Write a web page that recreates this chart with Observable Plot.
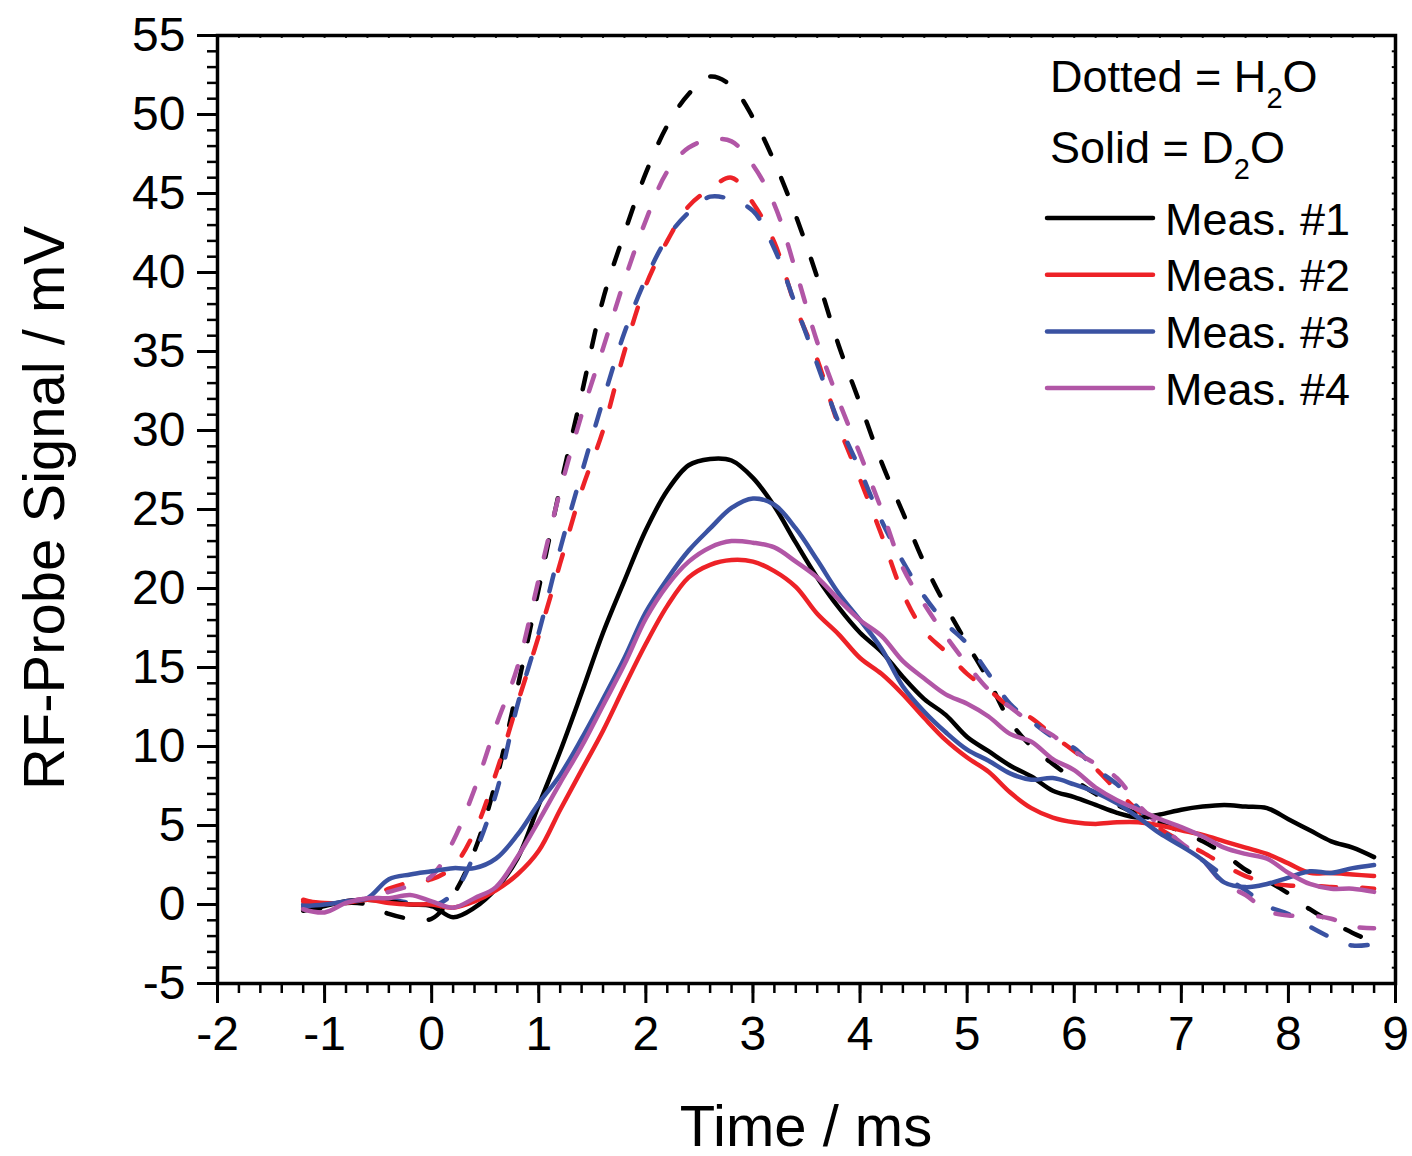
<!DOCTYPE html>
<html><head><meta charset="utf-8">
<script src="https://cdn.jsdelivr.net/npm/d3@7"></script>
<script src="https://cdn.jsdelivr.net/npm/@observablehq/plot@0.6"></script>
<style>
html,body{margin:0;padding:0;background:#fff;}
#chart{position:relative;width:1412px;height:1156px;}
</style></head><body><div id="chart"></div>
<script>
// Time axis (ms)
const time = [-1.2,-1.0,-0.8,-0.6,-0.4,-0.2,0,0.2,0.4,0.6,0.8,1.0,1.2,1.4,1.6,1.8,2.0,2.2,2.4,2.6,2.8,3.0,3.2,3.4,3.6,3.8,4.0,4.2,4.4,4.6,4.8,5.0,5.2,5.4,5.6,5.8,6.0,6.2,6.4,6.6,6.8,7.0,7.2,7.4,7.6,7.8,8.0,8.2,8.4,8.6,8.8];

const seriesNames = ["Meas. #1","Meas. #2","Meas. #3","Meas. #4"];
const seriesColors = ["#000000","#ED2227","#3A52A2","#B156A6"];

// Solid = D2O (mV)
const d2o1 = [-0.4,-0.1,0.2,0.3,0.2,0.0,-0.1,-0.8,-0.2,1.0,2.9,6.3,9.7,13.4,17.2,20.5,23.7,26.2,27.8,28.2,28.1,27.0,25.2,22.9,20.7,18.8,17.2,16.0,14.4,13.0,12.0,10.6,9.7,8.8,8.1,7.2,6.8,6.3,5.8,5.5,5.7,6.0,6.2,6.3,6.2,6.1,5.4,4.7,4.0,3.6,3.0];
const d2o2 = [0.2,0.1,0.1,0.3,0.1,0.0,0.0,-0.2,0.2,0.9,1.9,3.4,6.0,8.5,11.0,13.8,16.5,18.9,20.7,21.5,21.8,21.7,21.1,20.1,18.4,17.1,15.6,14.6,13.3,11.8,10.4,9.3,8.4,7.1,6.1,5.5,5.2,5.1,5.2,5.2,5.0,4.7,4.4,4.0,3.6,3.2,2.6,2.0,2.0,1.9,1.8];
const d2o3 = [-0.1,0.0,0.2,0.4,1.6,1.9,2.1,2.3,2.3,2.9,4.4,6.4,8.2,10.5,13.0,15.6,18.5,20.6,22.4,23.8,25.1,25.7,25.3,23.8,21.8,19.7,18.0,16.2,13.8,12.2,10.9,9.8,9.1,8.3,7.9,8.0,7.6,7.1,6.4,5.5,4.5,3.7,2.8,1.4,1.1,1.3,1.7,2.1,2.0,2.3,2.5];
const d2o4 = [-0.3,-0.5,0.1,0.4,0.4,0.6,0.2,-0.2,0.4,1.1,3.0,5.3,7.7,10.0,12.6,15.2,18.1,20.2,21.7,22.6,23.0,22.9,22.6,21.7,20.7,19.3,18.0,17.0,15.4,14.3,13.3,12.7,11.9,10.8,10.3,9.2,8.5,7.4,6.6,6.0,5.4,4.9,4.3,3.6,3.2,2.9,2.0,1.3,1.0,1.0,0.8];

// Dotted = H2O (mV)
const h2o1 = [-0.3,-0.2,0.1,0.0,-0.6,-0.9,-0.9,0.6,3.4,7.8,13.7,20.0,26.4,32.3,38.3,42.5,46.3,49.3,51.3,52.4,51.8,49.8,47.0,43.6,39.7,35.4,31.7,28.0,24.8,21.6,18.9,16.5,14.2,11.6,10.0,8.9,7.9,7.0,6.3,5.7,5.2,4.6,4.0,3.2,2.2,1.5,0.7,-0.3,-1.1,-1.8,-2.4];
const h2o2 = [0.3,0.0,0.2,0.4,1.0,1.4,1.6,2.4,4.6,8.3,12.7,17.0,21.6,26.2,30.0,35.0,39.2,42.0,44.2,45.3,46.0,44.4,41.9,37.8,34.5,30.3,26.9,23.4,19.7,17.3,16.0,14.6,13.6,12.5,11.8,10.7,9.7,8.6,7.2,5.9,4.8,4.0,3.3,2.5,1.8,1.4,1.2,1.2,1.1,1.1,1.0];
const h2o3 = [0.0,0.1,0.2,0.3,0.3,0.1,-0.1,0.7,3.2,7.0,12.6,17.2,22.5,27.3,31.9,36.2,39.6,42.2,43.8,44.8,44.6,43.9,41.5,37.9,34.2,30.5,27.5,24.3,21.7,19.5,17.8,16.5,14.6,12.7,11.6,10.6,9.9,8.6,7.6,6.1,4.8,3.8,2.8,1.8,0.9,-0.1,-0.6,-1.4,-2.1,-2.6,-2.5];
const h2o4 = [-0.2,0.0,0.2,0.4,0.8,1.2,1.8,4.0,7.3,11.3,15.0,20.6,26.2,31.0,35.2,39.5,43.3,46.4,47.9,48.4,48.3,46.8,44.3,40.1,35.6,31.9,28.5,25.0,21.3,19.0,17.0,15.2,13.6,12.5,11.5,10.7,9.7,8.9,8.0,6.3,5.0,3.9,2.8,1.3,0.6,-0.4,-0.7,-0.7,-0.9,-1.4,-1.5];

// Tick labels
const xTicks = [-2,-1,0,1,2,3,4,5,6,7,8,9];
const yTicks = [-5,0,5,10,15,20,25,30,35,40,45,50,55];

const solidSeries = [d2o1, d2o2, d2o3, d2o4];
const dashedSeries = [h2o1, h2o2, h2o3, h2o4];

function tidy(list) {
  const out = [];
  list.forEach((vals, k) => vals.forEach((v, i) => out.push({t: time[i], v, meas: seriesNames[k]})));
  return out;
}
const solidRows = tidy(solidSeries);
const dashedRows = tidy(dashedSeries);

const xMinor = d3.range(-20, 91, 2).map(d => d / 10);
const yMinor = d3.range(-5, 56, 1);

const font = "'Liberation Sans', Arial, Helvetica, sans-serif";

const plot = Plot.plot({
  width: 1412,
  height: 1156,
  marginLeft: 217,
  marginRight: 17,
  marginTop: 35,
  marginBottom: 173,
  style: {fontFamily: font, color: "black", background: "white", overflow: "visible"},
  x: {domain: [-2, 9]},
  y: {domain: [-5, 55]},
  color: {domain: seriesNames, range: seriesColors},
  marks: [
    Plot.lineY(dashedRows, {x: "t", y: "v", z: "meas", stroke: "meas", strokeWidth: 4.5, strokeDasharray: "17,26", strokeLinecap: "round", curve: "catmull-rom"}),
    Plot.lineY(solidRows, {x: "t", y: "v", z: "meas", stroke: "meas", strokeWidth: 4.5, curve: "catmull-rom"}),
    Plot.axisX({ticks: xMinor, tickSize: 10, tickFormat: () => "", strokeWidth: 2.5, label: null}),
    Plot.axisX({ticks: xTicks, tickSize: 20, tickPadding: 12, tickFormat: d => String(d), fontSize: 48, strokeWidth: 3, label: null}),
    Plot.axisY({ticks: yMinor, tickSize: 10, tickFormat: () => "", strokeWidth: 2.5, label: null}),
    Plot.axisY({ticks: yTicks, tickSize: 20, tickPadding: 12, tickFormat: d => String(d), fontSize: 48, strokeWidth: 3, label: null}),
    Plot.ruleX(xMinor, {x: d => d, y1: 55, y2: 54.82, stroke: "black", strokeWidth: 2}),
    Plot.ruleY(yMinor, {y: d => d, x1: 9, x2: 8.97, stroke: "black", strokeWidth: 2}),
    Plot.frame({stroke: "black", strokeWidth: 3.5})
  ]
});

document.getElementById("chart").appendChild(plot);

const svg = d3.select(plot);
// Axis titles
svg.append("text").attr("x", 806).attr("y", 1146).attr("text-anchor", "middle")
  .attr("font-size", 58).attr("fill", "black").attr("font-family", font).text("Time / ms");
svg.append("text").attr("transform", "translate(64,508) rotate(-90)").attr("text-anchor", "middle")
  .attr("font-size", 58).attr("fill", "black").attr("font-family", font).text("RF-Probe Signal / mV");

// Legend
const leg = svg.append("g").attr("font-family", font).attr("fill", "black").attr("text-anchor", "start");
function chem(y, a, b) {
  const t = leg.append("text").attr("x", 1050).attr("y", y).attr("font-size", 45).attr("text-anchor", "start");
  t.append("tspan").text(a);
  t.append("tspan").attr("font-size", 29).attr("dy", 16).text("2");
  t.append("tspan").attr("dy", -16).text(b);
}
chem(92, "Dotted = H", "O");
chem(163, "Solid = D", "O");
seriesNames.forEach((name, k) => {
  const yl = 218 + k * 56.7;
  leg.append("line").attr("x1", 1047).attr("x2", 1153).attr("y1", yl).attr("y2", yl)
    .attr("stroke", seriesColors[k]).attr("stroke-width", 4.5).attr("stroke-linecap", "round");
  leg.append("text").attr("x", 1165).attr("y", yl + 16.5).attr("font-size", 45).attr("text-anchor", "start").text(name);
});
</script></body></html>
